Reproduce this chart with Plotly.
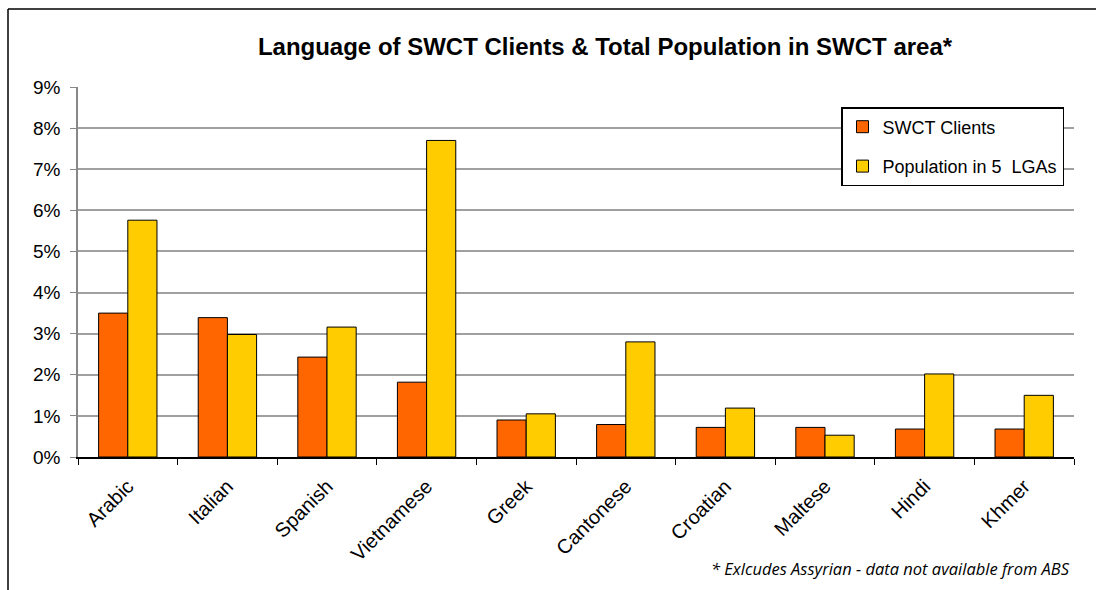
import plotly.graph_objects as go

languages = ["Arabic", "Italian", "Spanish", "Vietnamese", "Greek", "Cantonese",
             "Croatian", "Maltese", "Hindi", "Khmer"]
swct_clients = [3.50, 3.39, 2.43, 1.82, 0.90, 0.79, 0.72, 0.72, 0.68, 0.68]
population_5lgas = [5.76, 2.98, 3.16, 7.70, 1.05, 2.80, 1.19, 0.53, 2.02, 1.50]
y_ticks = [0, 1, 2, 3, 4, 5, 6, 7, 8, 9]
y_tick_labels = [f"{v}%" for v in y_ticks]

W, H = 1096, 590
ML, MR, MT, MB = 78, 22, 87, 133
PW, PH = W - ML - MR, H - MT - MB

def px(x):
    return (x - ML) / PW

def py(y):
    return (H - MB - y) / PH

fig = go.Figure()
fig.add_trace(go.Bar(
    x=languages, y=swct_clients, name="SWCT Clients", legendgroup="a",
    marker=dict(color="#FF6600", line=dict(color="#000000", width=1)),
))
fig.add_trace(go.Bar(
    x=languages, y=population_5lgas, name="Population in 5  LGAs", legendgroup="b",
    marker=dict(color="#FFCC00", line=dict(color="#000000", width=1)),
))

fig.update_layout(
    width=W, height=H,
    margin=dict(l=ML, r=MR, t=MT, b=MB),
    paper_bgcolor="white", plot_bgcolor="white",
    barmode="group", bargap=0.414, bargroupgap=0,
    font=dict(family="Liberation Sans, Arial, sans-serif", size=17, color="#000000"),
    title=dict(
        text="<b>Language of SWCT Clients & Total Population in SWCT area*</b>",
        xref="container", x=605 / W, xanchor="center",
        yref="container", y=1 - 47 / H, yanchor="middle",
        font=dict(size=24, family="Liberation Sans, Arial, sans-serif", color="#000000"),
    ),
    legend=dict(
        x=px(841), xanchor="left", y=py(107), yanchor="top",
        bgcolor="white", bordercolor="#000000", borderwidth=1.5,
        font=dict(size=18), tracegroupgap=13, traceorder="grouped",
        itemwidth=30,
    ),
    showlegend=True,
)

fig.update_xaxes(
    type="category", tickson="boundaries", ticks="outside", ticklen=6,
    tickcolor="#000000", showline=True, linecolor="#000000", linewidth=1.5,
    tickangle=-45, tickfont=dict(size=20), showgrid=False, ticklabelstandoff=8,
)
fig.update_yaxes(
    range=[0, 9], tickvals=y_ticks, ticktext=y_tick_labels,
    ticks="outside", ticklen=6, tickcolor="#888888",
    showline=True, linecolor="#888888", linewidth=1.5,
    showgrid=True, gridcolor="#A0A0A0", gridwidth=1.5,
    tickfont=dict(size=19), zeroline=False, ticklabelstandoff=6,
)

# chart frame (left and top edges)
fig.add_shape(type="line", xref="paper", yref="paper",
              x0=px(8), x1=px(8), y0=py(9), y1=py(600),
              line=dict(color="#000000", width=1.5))
fig.add_shape(type="line", xref="paper", yref="paper",
              x0=px(8), x1=px(1100), y0=py(9), y1=py(9),
              line=dict(color="#000000", width=1.5))

fig.add_annotation(
    text="<i>* Exlcudes Assyrian - data not available from ABS</i>",
    xref="paper", yref="paper", x=px(1072), y=py(568),
    xanchor="right", yanchor="middle", showarrow=False,
    font=dict(family="Open Sans, Noto Sans, sans-serif", size=16.5, color="#000000"),
)

fig.write_html("out.html")
